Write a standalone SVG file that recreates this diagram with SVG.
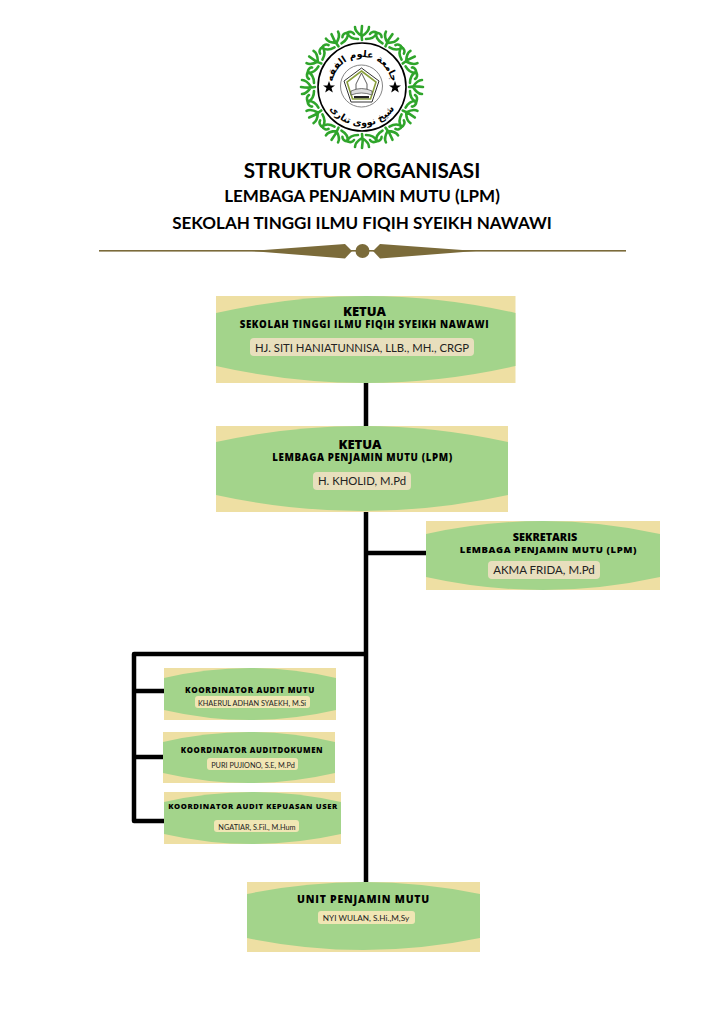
<svg xmlns="http://www.w3.org/2000/svg" xmlns:xlink="http://www.w3.org/1999/xlink" width="724" height="1024" viewBox="0 0 724 1024">
<style>
.bg{fill:#eedfa3}
.gr{fill:#a3d48b}
.pill{fill:#e8dfbd}
.pill2{fill:#f0e6b4}
.ln{stroke:#000;stroke-width:4.5;fill:none;stroke-linejoin:round;stroke-linecap:butt}
text{text-anchor:middle}
.t{font-family:"Lato","Liberation Sans",sans-serif;font-weight:700;fill:#000}
.h{font-family:"Open Sans","Liberation Sans",sans-serif;font-weight:800;fill:#000}
.n{font-family:"Lato","Liberation Sans",sans-serif;font-weight:400;fill:#222}
.orn{fill:none;stroke:#2fa52b;stroke-width:2.6;stroke-linecap:round}
.ar{font-family:"DejaVu Sans",sans-serif;font-weight:700;fill:#000}
</style>
<defs>
<g id="o">
<path class="orn" d="M0-47C-1-52-1-55 0-61M0-51C5-54 7-56 7-60M0-51C-5-54-7-56-7-60M-4-48C-9-48-13-50-15-54-12-56-9-55-8-53M4-48C9-48 13-50 15-54 12-56 9-55 8-53"/>
</g>
</defs>
<rect width="724" height="1024" fill="#fff"/>

<g id="logo">
<use xlink:href="#o" transform="translate(362 87)"/>
<use xlink:href="#o" transform="translate(362 87) rotate(30)"/>
<use xlink:href="#o" transform="translate(362 87) rotate(60)"/>
<use xlink:href="#o" transform="translate(362 87) rotate(90)"/>
<use xlink:href="#o" transform="translate(362 87) rotate(120)"/>
<use xlink:href="#o" transform="translate(362 87) rotate(150)"/>
<use xlink:href="#o" transform="translate(362 87) rotate(180)"/>
<use xlink:href="#o" transform="translate(362 87) rotate(210)"/>
<use xlink:href="#o" transform="translate(362 87) rotate(240)"/>
<use xlink:href="#o" transform="translate(362 87) rotate(270)"/>
<use xlink:href="#o" transform="translate(362 87) rotate(300)"/>
<use xlink:href="#o" transform="translate(362 87) rotate(330)"/>
<circle cx="362" cy="87" r="44" fill="#fff" stroke="#000" stroke-width="1.6"/>
<path id="arcTop" d="M332 87A30 30 0 0 1 392 87" fill="none"/>
<path id="arcBot" d="M323 87A39 39 0 0 0 401 87" fill="none"/>
<text class="ar" font-size="9.500"><textPath xlink:href="#arcTop" startOffset="50%">جامعة علوم الفقه</textPath></text>
<text class="ar" font-size="9.500"><textPath xlink:href="#arcBot" startOffset="50%">شيخ نووى تنارى</textPath></text>
<polygon points="329,81 330.6,85.400 335,85.400 331.500,88.100 332.800,92.500 329,90 325.200,92.500 326.500,88.100 323,85.400 327.400,85.400" fill="#000"/>
<polygon points="395,81 396.600,85.400 401,85.400 397.500,88.100 398.800,92.500 395,90 391.200,92.500 392.500,88.100 389,85.400 393.400,85.400" fill="#000"/>
<circle cx="361.500" cy="86" r="21" fill="#fff" stroke="#666" stroke-width=".8"/>
<polygon points="361.500,68 379,81 372,102 351,102 344,81" fill="#fff" stroke="#333" stroke-width="1"/>
<polygon points="361.500,71 376,82 370.500,99 352.500,99 347,82" fill="none" stroke="#8aa03c" stroke-width="1.600"/>
<path d="M361.500 73L356 84V90H367V84Z" fill="#fff" stroke="#333" stroke-width=".8"/>
<path d="M351 91Q361.500 86 372 91V95Q361.500 91 351 95Z" fill="#ddd" stroke="#444" stroke-width=".7"/>
<rect x="354" y="96" width="15" height="2.200" fill="#222"/>
</g>

<g id="title">
<text class="t" x="362" y="178" font-size="20.700">STRUKTUR ORGANISASI</text>
<text class="t" x="362" y="202" font-size="17">LEMBAGA PENJAMIN MUTU (LPM)</text>
<text class="t" x="362" y="229" font-size="17">SEKOLAH TINGGI ILMU FIQIH SYEIKH NAWAWI</text>
</g>

<g id="divider" fill="#7b6b3a">
<rect x="99" y="250" width="527" height="1.600"/>
<polygon points="252,251 345,244 352,251 345,258.500"/>
<circle cx="362.500" cy="251" r="7"/>
<polygon points="476,251 380,244 373,251 380,258.500"/>
</g>

<g id="connectors">
<path class="ln" d="M366 383V426M366 512V882M366 553H426M366 654H134V821H164M134 691H164M134 757H163"/>
</g>

<g id="n1">
<rect class="bg" x="216" y="296" width="299.500" height="87"/>
<path class="gr" d="M216 313Q366 279 515.500 313V366Q366 400 216 366Z"/>
<text class="h" x="364.500" y="316" font-size="13">KETUA</text>
<text class="h" x="364.500" y="328" font-size="9.700" letter-spacing=".6">SEKOLAH TINGGI ILMU FIQIH SYEIKH NAWAWI</text>
<rect class="pill" x="250" y="338" width="224" height="18" rx="4"/>
<text class="n" x="362" y="352" font-size="11.300">HJ. SITI HANIATUNNISA, LLB., MH., CRGP</text>
</g>

<g id="n2">
<rect class="bg" x="216" y="426" width="292" height="86"/>
<path class="gr" d="M216 442Q362 410 508 442V495Q362 527 216 495Z"/>
<text class="h" x="360" y="449" font-size="13">KETUA</text>
<text class="h" x="362.500" y="461" font-size="9.700" letter-spacing=".6">LEMBAGA PENJAMIN MUTU (LPM)</text>
<rect class="pill" x="313" y="472" width="98" height="18" rx="4"/>
<text class="n" x="362" y="485" font-size="11.300">H. KHOLID, M.Pd</text>
</g>

<g id="n3">
<rect class="bg" x="426" y="521" width="234" height="69"/>
<path class="gr" d="M426 534Q543 508 660 534V577Q543 603 426 577Z"/>
<text class="h" x="545" y="541" font-size="10.800">SEKRETARIS</text>
<text class="h" x="548.500" y="553" font-size="9.500" letter-spacing=".6">LEMBAGA PENJAMIN MUTU (LPM)</text>
<rect class="pill" x="488" y="561" width="112" height="18" rx="4"/>
<text class="n" x="544" y="574" font-size="11.500">AKMA FRIDA, M.Pd</text>
</g>

<g id="n4">
<rect class="bg" x="164" y="668" width="172" height="52"/>
<path class="gr" d="M164 678Q250 658 336 678V710Q250 730 164 710Z"/>
<text class="h" x="250" y="693" font-size="8.100" letter-spacing=".6">KOORDINATOR AUDIT MUTU</text>
<rect class="pill2" x="195" y="696" width="115" height="12" rx="3"/>
<text class="n" x="252" y="705.500" font-size="7.300">KHAERUL ADHAN SYAEKH, M.Si</text>
</g>

<g id="n5">
<rect class="bg" x="163" y="732" width="172" height="51"/>
<path class="gr" d="M163 742Q249 722 335 742V773Q249 793 163 773Z"/>
<text class="h" x="252" y="753" font-size="7.800" letter-spacing=".6">KOORDINATOR AUDITDOKUMEN</text>
<rect class="pill2" x="207" y="758" width="91" height="12" rx="3"/>
<text class="n" x="253" y="767.500" font-size="7.300">PURI PUJIONO, S.E, M.Pd</text>
</g>

<g id="n6">
<rect class="bg" x="164" y="792" width="177" height="52"/>
<path class="gr" d="M164 802Q252 782 341 802V834Q252 854 164 834Z"/>
<text class="h" x="253" y="809" font-size="7.700" letter-spacing=".6">KOORDINATOR AUDIT KEPUASAN USER</text>
<rect class="pill2" x="214" y="820" width="85" height="12" rx="3"/>
<text class="n" x="257" y="829.500" font-size="7.300">NGATIAR, S.Fil., M.Hum</text>
</g>

<g id="n7">
<rect class="bg" x="247" y="882" width="233" height="70"/>
<path class="gr" d="M247 894Q363 870 480 894V938Q363 962 247 938Z"/>
<text class="h" x="363.500" y="903" font-size="10.450" letter-spacing=".8">UNIT PENJAMIN MUTU</text>
<rect class="pill2" x="318" y="911" width="97" height="13" rx="3"/>
<text class="n" x="366" y="921" font-size="8.200">NYI WULAN, S.Hi.,M,Sy</text>
</g>
</svg>
